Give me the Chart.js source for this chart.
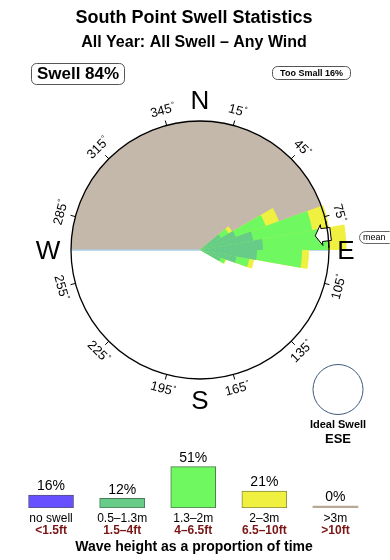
<!DOCTYPE html>
<html><head><meta charset="utf-8">
<script src="https://cdn.jsdelivr.net/npm/chart.js@4"></script>
<style>
html,body{margin:0;padding:0;background:#fff;}
#wrap{position:relative;width:390px;height:560px;overflow:hidden;}
canvas{position:absolute;left:0;top:0;}
</style></head><body>
<div id="wrap"><canvas id="rose" width="390" height="560"></canvas><canvas id="bars" width="390" height="560"></canvas></div>
<script>
// ---- Data ----
// direction bins (start of each 10° bin, compass degrees)
const directionBins = [0,10,20,30,40,50,60,70,80,90,100,110,120,130,140,150,160,170,180,190,200,210,220,230,240,250,260,270,280,290,300,310,320,330,340,350];
// radial length of each height band per direction bin (units: compass ring = 100)
const band05to13 = [0,0,0,0,0,18.6,29.5,41.9,48.8,44.2,28.7,17.1,0,0,0,0,0,0,0,0,0,0,0,0,0,0,0,0,0,0,0,0,0,0,0,0];
const band13to2  = [0,0,0,0,0, 7.0,24.8,46.5,50.4,34.9,10.1, 3.8,0,0,0,0,0,0,0,0,0,0,0,0,0,0,0,0,0,0,0,0,0,0,0,0];
const band2to3   = [0,0,0,0,0, 3.1,10.8,13.2,14.4, 5.4, 3.8, 0.8,0,0,0,0,0,0,0,0,0,0,0,0,0,0,0,0,0,0,0,0,0,0,0,0];
const compassRing = 100;
const meanDirection = 83;
const idealSwell = 'ESE';
const swellPct = 84;
const tooSmallPct = 16;
const degreeTicks = [15,45,75,105,135,165,195,225,255,285,315,345];
const cardinalLabels = ['N','E','S','W'];
// summary of wave heights (% of time)
const heightLabelsM  = ['no swell','0.5–1.3m','1.3–2m','2–3m','>3m'];
const heightLabelsFt = ['<1.5ft','1.5–4ft','4–6.5ft','6.5–10ft','>10ft'];
const heightPct = [16,12,51,21,0];

// ---- Build ----
const cum1 = band05to13.slice();
const cum2 = cum1.map((v,i)=>v+band13to2[i]);
const cum3 = cum2.map((v,i)=>v+band2to3[i]);
const FONT = '"Liberation Sans", Arial, Helvetica, sans-serif';
const R_PX = 150, RING_PX = 129;

function rrect(ctx,x,y,w,h,r){ctx.beginPath();ctx.moveTo(x+r,y);ctx.lineTo(x+w-r,y);ctx.arcTo(x+w,y,x+w,y+r,r);ctx.lineTo(x+w,y+h-r);ctx.arcTo(x+w,y+h,x+w-r,y+h,r);ctx.lineTo(x+r,y+h);ctx.arcTo(x,y+h,x,y+h-r,r);ctx.lineTo(x,y+r);ctx.arcTo(x,y,x+r,y,r);ctx.closePath();}

const rosePlugin = {
  id:'roseDecor',
  beforeDatasetsDraw(chart){
    const ctx=chart.ctx, s=chart.scales.r, cx=s.xCenter, cy=s.yCenter;
    const R=s.getDistanceFromCenterForValue(compassRing);
    ctx.save();
    ctx.fillStyle='#c4b8ab';
    ctx.beginPath();ctx.moveTo(cx,cy);ctx.arc(cx,cy,R,Math.PI,2*Math.PI);ctx.closePath();ctx.fill();
    ctx.strokeStyle='#a9cde6';ctx.lineWidth=1.5;
    ctx.beginPath();ctx.moveTo(cx-R,cy);ctx.lineTo(cx+R,cy);ctx.stroke();
    ctx.restore();
  },
  afterDatasetsDraw(chart){
    const ctx=chart.ctx, s=chart.scales.r, cx=s.xCenter, cy=s.yCenter;
    const R=s.getDistanceFromCenterForValue(compassRing);
    const rad=d=>d*Math.PI/180;
    ctx.save();
    // ring
    ctx.strokeStyle='#000';ctx.lineWidth=1.3;
    ctx.beginPath();ctx.arc(cx,cy,R,0,2*Math.PI);ctx.stroke();
    // ticks & degree labels
    ctx.lineWidth=1;
    degreeTicks.forEach(d=>{
      const a=rad(d), sx=Math.sin(a), cyy=-Math.cos(a);
      ctx.beginPath();ctx.moveTo(cx+sx*R,cy+cyy*R);ctx.lineTo(cx+sx*(R+5),cy+cyy*(R+5));ctx.stroke();
      const lr=R+15;
      ctx.save();
      ctx.translate(cx+sx*lr,cy+cyy*lr);
      let rot=(d>90&&d<270)?d-180:d;
      ctx.rotate(rad(rot));
      ctx.fillStyle='#000';ctx.textBaseline='middle';ctx.textAlign='left';
      ctx.font='13px '+FONT;
      const num=String(d), wn=ctx.measureText(num).width;
      ctx.font='8px '+FONT;
      const wd=ctx.measureText('°').width;
      const x0=-(wn+wd)/2;
      ctx.font='13px '+FONT;ctx.fillText(num,x0,0);
      ctx.font='8px '+FONT;ctx.fillText('°',x0+wn+0.5,-3);
      ctx.restore();
    });
    // cardinal labels
    ctx.fillStyle='#000';ctx.font='26px '+FONT;ctx.textAlign='center';ctx.textBaseline='middle';
    const cardPos={N:[0,-148],E:[146,2],S:[0,152],W:[-152,2]};
    cardinalLabels.forEach(c=>{ctx.fillText(c,cx+cardPos[c][0],cy+cardPos[c][1]);});
    // mean arrow
    const a=rad(meanDirection), dx=Math.sin(a), dy=-Math.cos(a), px=Math.cos(a), py=Math.sin(a);
    const pts=[[R*0.9,0],[R*0.95,-10.5],[R*0.95,-6.5],[R*1.02,-6.5],[R*1.02,6.5],[R*0.95,6.5],[R*0.95,10.5]];
    ctx.beginPath();
    pts.forEach((p,i)=>{const x=cx+p[0]*dx+p[1]*px, y=cy+p[0]*dy+p[1]*py; if(i)ctx.lineTo(x,y);else ctx.moveTo(x,y);});
    ctx.closePath();ctx.fillStyle='#fff';ctx.fill();ctx.strokeStyle='#000';ctx.lineWidth=1;ctx.stroke();
    ctx.lineWidth=1.3;ctx.beginPath();ctx.arc(cx,cy,R,rad(meanDirection-90-6),rad(meanDirection-90+6));ctx.stroke();
    // mean label
    ctx.lineWidth=1;ctx.strokeStyle='#666';rrect(ctx,359.5,231.5,36,12,6);ctx.fillStyle='#fff';ctx.fill();ctx.stroke();
    ctx.fillStyle='#000';ctx.font='9px '+FONT;ctx.textAlign='left';ctx.fillText('mean',363,238);
    // ideal swell
    ctx.strokeStyle='#3d5a80';ctx.lineWidth=1;ctx.beginPath();ctx.arc(338,389.5,25,0,2*Math.PI);ctx.stroke();
    ctx.fillStyle='#000';ctx.textAlign='center';
    ctx.font='bold 11px '+FONT;ctx.fillText('Ideal Swell',338,425);
    ctx.font='bold 13px '+FONT;ctx.fillText(idealSwell,338,439.5);
    // header
    ctx.font='bold 18px '+FONT;ctx.fillText('South Point Swell Statistics',194,18.5);
    ctx.font='bold 16px '+FONT;ctx.fillText('All Year: All Swell – Any Wind',194,42.5);
    ctx.strokeStyle='#555';rrect(ctx,31.5,63.5,93,21,5);ctx.stroke();
    ctx.font='bold 17px '+FONT;ctx.fillText('Swell '+swellPct+'%',78,74.5);
    rrect(ctx,272.5,66.5,78,13,5);ctx.stroke();
    ctx.font='bold 9px '+FONT;ctx.fillText('Too Small '+tooSmallPct+'%',311.5,73.5);
    ctx.restore();
  }
};

new Chart(document.getElementById('rose'),{
  type:'polarArea',
  data:{labels:directionBins.map(d=>d+'°'),datasets:[
    {label:'0.5–1.3m',data:cum1,backgroundColor:'#66cc88',borderWidth:0,clip:false},
    {label:'1.3–2m',data:cum2,backgroundColor:'#70f860',borderWidth:0,clip:false},
    {label:'2–3m',data:cum3,backgroundColor:'#f0f040',borderWidth:0,clip:false}
  ]},
  options:{responsive:false,animation:false,
    layout:{padding:{left:50,right:40,top:100,bottom:160}},
    plugins:{legend:{display:false},tooltip:{enabled:false}},
    scales:{r:{min:0,max:compassRing*R_PX/RING_PX,startAngle:0,
      ticks:{display:false},grid:{display:false},angleLines:{display:false},pointLabels:{display:false}}}
  },
  plugins:[rosePlugin]
});

const barColors=['#6650ff','#66cc88','#70f860','#f0f040','#b8a898'];
const barBorders=['#555577','#4a7a5a','#4a7a4a','#888840','#b8a898'];
const barLabelPlugin={
  id:'barLabels',
  afterDatasetsDraw(chart){
    const ctx=chart.ctx, meta=chart.getDatasetMeta(0);
    ctx.save();ctx.textAlign='center';ctx.textBaseline='middle';
    meta.data.forEach((el,i)=>{
      ctx.fillStyle='#000';ctx.font='14px '+FONT;
      ctx.fillText(heightPct[i]+'%',el.x,el.y-8.5);
      ctx.font='12px '+FONT;ctx.fillText(heightLabelsM[i],el.x,518.5);
      ctx.fillStyle='#7b1515';ctx.font='bold 12px '+FONT;ctx.fillText(heightLabelsFt[i],el.x,530.5);
    });
    ctx.fillStyle='#000';ctx.font='bold 14px '+FONT;
    ctx.fillText('Wave height as a proportion of time',194,547);
    ctx.restore();
  }
};
new Chart(document.getElementById('bars'),{
  type:'bar',
  data:{labels:heightLabelsM,datasets:[{data:heightPct,backgroundColor:barColors,borderColor:barBorders,
    borderWidth:[1,1,1,1,0],borderSkipped:false,barThickness:45,minBarLength:2}]},
  options:{responsive:false,animation:false,
    layout:{padding:{left:15.5,right:19,top:459.4,bottom:52}},
    plugins:{legend:{display:false},tooltip:{enabled:false}},
    scales:{x:{display:false},y:{display:false,min:0,max:60}}
  },
  plugins:[barLabelPlugin]
});
</script>
</body></html>
